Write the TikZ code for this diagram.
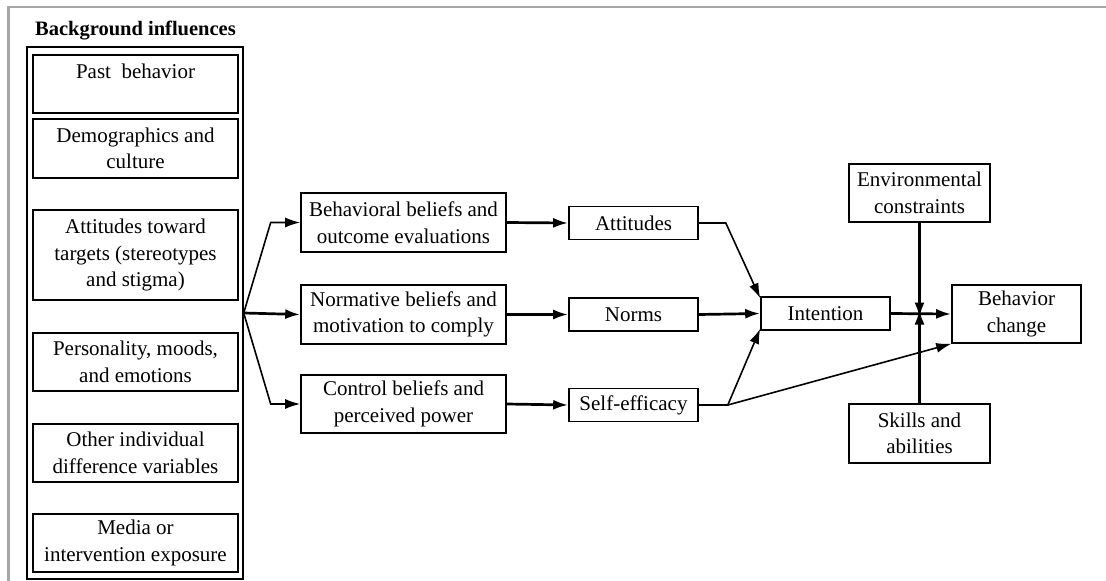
\documentclass[tikz,border=0pt]{standalone}
\usepackage{fontspec}
\setmainfont{Liberation Serif}
\usetikzlibrary{arrows.meta,calc}

\begin{document}
\begin{tikzpicture}[x=1pt,y=-1pt,
  box/.style={draw,line width=1.6pt,align=center,inner sep=2pt,
    font=\fontsize{21}{26.5}\selectfont},
  wide/.style={box,minimum width=205pt,minimum height=58pt},
  small/.style={box,minimum width=129pt,minimum height=33pt},
  tip/.style={-{Latex[length=15pt,width=10pt]}},
  thin/.style={line width=1.6pt,tip},
  thick/.style={line width=2.7pt,tip},
  frame/.style={draw=black!35,line width=2.7pt}]

\useasboundingbox (0,0) rectangle (1106,581);
% page frame
\draw[frame] (8.7,581) -- (8.7,7) -- (1106,7);

% background influences column
\node[font=\bfseries\fontsize{20.5}{26}\selectfont] (title) at (135.5,31) {Background influences};
\node[draw,line width=1.4pt,minimum width=216pt,minimum height=532pt,inner sep=0pt] (bg) at (135,313) {};
\node[wide] (past)  at (135.5,84)    {Past\ \ behavior\\[-8pt] \strut};
\node[wide,minimum height=59pt] (demo) at (135.5,148.5) {Demographics and\\culture};
\node[wide,minimum height=90pt] (targ) at (135.5,255) {Attitudes toward\\targets (stereotypes\\and stigma)};
\node[wide] (pers)  at (135.5,362)   {Personality, moods,\\and emotions};
\node[wide] (other) at (135.5,453)   {Other individual\\difference variables};
\node[wide] (media) at (135.5,543)   {Media or\\intervention exposure};

% beliefs
\node[wide,minimum height=59pt] (bb) at (403.5,222.5) {Behavioral beliefs and\\outcome evaluations};
\node[wide,minimum height=59pt] (nb) at (403.5,314.5) {Normative beliefs and\\motivation to comply};
\node[wide] (cb) at (403.5,404) {Control beliefs and\\perceived power};

% determinants
\node[small] (att)   at (633.5,223)   {Attitudes};
\node[small] (norms) at (633.5,314.5) {Norms};
\node[small] (se)    at (633.5,405)   {Self-efficacy};

% intention and behavior
\node[small] (int) at (825.5,313.5) {Intention};
\node[wide,minimum width=129pt] (bc) at (1016.5,314) {Behavior\\change};
\node[wide,minimum width=141pt] (env) at (919.5,193) {Environmental\\constraints};
\node[wide,minimum width=141pt,minimum height=59pt] (skill) at (919.5,433.5) {Skills and\\abilities};

% fan out from background influences
\coordinate (fan) at (bg.east);
\draw[thin] (fan) -- ([xshift=27pt]fan |- bb.west) -- (bb.west);
\draw[thick] (fan) -- (nb.west);
\draw[thin] (fan) -- ([xshift=27pt]fan |- cb.west) -- (cb.west);

% beliefs to determinants
\draw[thick] (bb.east) -- (att.west);
\draw[thick] (nb.east) -- (norms.west);
\draw[thick] (cb.east) -- (se.west);

% determinants to intention
\coordinate (aknee) at ([xshift=27pt]att.east);
\coordinate (sknee) at ([xshift=29pt]se.east);
\draw[thin] (att.east) -- (aknee) -- ([yshift=-2pt]int.north west);
\draw[thick] (norms.east) -- (int.west);
\draw[thin] (se.east) -- (sknee) -- ([yshift=2pt]int.south west);
\draw[thin] (sknee) -- (bc.south west);

% intention to behavior, with moderators
\draw[thick] (int.east) -- (bc.west);
\draw[thick] (env.south) -- ([yshift=-4pt]env.south |- int.east);
\draw[thick] (skill.north) -- ([yshift=4pt]skill.north |- int.east);
\end{tikzpicture}
\end{document}
